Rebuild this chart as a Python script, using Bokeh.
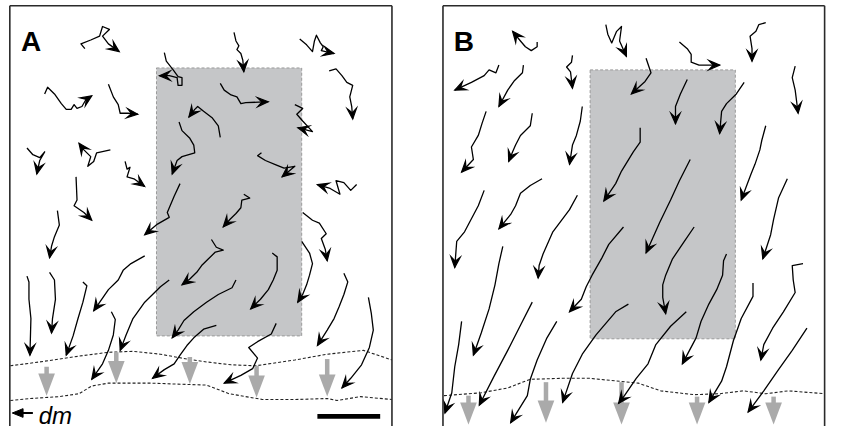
import math
from bokeh.plotting import figure
from bokeh.models import Range1d
from bokeh.embed import file_html
from bokeh.resources import INLINE
from bokeh.core.properties import value

# ---- layout data, in the reference picture's pixel space (y grows downwards)
panel_left = [9.5, 451.0]
panel_right = [399.0, 840.0]
panel_top = 5.5
panel_bottom = 442.0
panel_labels = ["A", "B"]
label_x = [21, 462]
label_y = [43, 43]

box_left = [159, 601]
box_right = [307, 749]
box_top = [70, 72]
box_bottom = [348, 351]

# dashed front lines
A_front1_x = [10, 40, 80, 110, 135, 163, 190, 210, 235, 260, 300, 333, 370, 399]
A_front1_y = [379, 375, 369, 365, 364, 367, 372, 375, 378, 379, 373, 367, 363, 373]
A_front2_x = [10, 30, 60, 80, 93, 110, 130, 153, 180, 210, 233, 267, 300, 333, 343, 367, 399]
A_front2_y = [415, 413, 411, 408, 400, 397, 397, 397, 398, 399, 408, 414, 414, 413, 415, 411, 414]
B_front_x = [452, 490, 517, 540, 573, 600, 650, 673, 707, 733, 757, 780, 803, 840]
B_front_y = [410, 407, 402, 393, 392, 392, 397, 405, 409, 408, 405, 408, 405, 408]

# grey arrows: x, top of shaft, tip
A_garrow_x = [47, 118, 193, 261, 333]
A_garrow_top = [380, 365, 370, 379, 372]
A_garrow_tip = [410, 397, 398, 412, 411]
B_garrow_x = [477, 556, 633, 710, 788]
B_garrow_top = [410, 396, 396, 411, 411]
B_garrow_tip = [440, 438, 440, 440, 440]

# trajectories (points), ending at the arrow tip
A_paths = [
    [(86, 50), (82, 45), (92, 41), (101, 37), (104, 27), (111, 30), (104, 37), (110, 45), (121, 53)],
    [(45, 97), (48, 90), (55, 97), (62, 107), (67, 113), (72, 113), (75, 108), (78, 112), (83, 110), (87, 103), (93, 99)],
    [(110, 87), (115, 100), (120, 108), (122, 117), (130, 117), (140, 118)],
    [(167, 54), (169, 63), (176, 72), (181, 79), (185, 80), (185, 88), (181, 88), (180, 80), (172, 78), (162, 78)],
    [(238, 33), (240, 42), (243, 47), (241, 51), (245, 55), (247, 62), (248, 74)],
    [(305, 40), (312, 46), (318, 53), (320, 42), (322, 36), (326, 44), (329, 48), (327, 52), (340, 55)],
    [(335, 73), (342, 71), (348, 78), (353, 85), (359, 88), (356, 100), (358, 110), (359, 123)],
    [(224, 86), (228, 93), (235, 98), (241, 100), (245, 107), (250, 106), (273, 105)],
    [(300, 108), (308, 112), (302, 118), (308, 125), (318, 136), (303, 132)],
    [(224, 142), (222, 130), (216, 122), (207, 115), (201, 110), (198, 113), (192, 121)],
    [(182, 126), (185, 135), (193, 143), (197, 150), (198, 158), (185, 162), (180, 166), (175, 180)],
    [(266, 158), (262, 161), (270, 166), (282, 171), (289, 174), (300, 172), (293, 178), (287, 183)],
    [(363, 191), (357, 197), (350, 189), (342, 187), (346, 201), (336, 195), (323, 191)],
    [(248, 201), (254, 205), (246, 207), (245, 215), (240, 221), (234, 227), (227, 235)],
    [(215, 248), (220, 256), (227, 259), (219, 261), (212, 268), (205, 275), (200, 282), (193, 289), (185, 295)],
    [(277, 262), (282, 266), (282, 280), (278, 290), (273, 300), (265, 310), (255, 320)],
    [(307, 250), (315, 262), (318, 273), (315, 285), (312, 295), (308, 305), (303, 313)],
    [(350, 283), (354, 292), (350, 305), (345, 318), (340, 330), (333, 342), (323, 358)],
    [(375, 308), (378, 325), (380, 342), (376, 360), (368, 378), (357, 392), (348, 402)],
    [(281, 335), (276, 346), (262, 354), (253, 360), (262, 371), (257, 382), (245, 389), (228, 397)],
    [(240, 290), (236, 298), (222, 305), (210, 313), (197, 323), (187, 332), (181, 342), (175, 350)],
    [(220, 337), (207, 341), (197, 350), (190, 358), (183, 368), (177, 377), (167, 383), (155, 392)],
    [(172, 290), (163, 297), (147, 313), (135, 330), (128, 347), (122, 363)],
    [(113, 323), (117, 331), (115, 347), (110, 363), (104, 377), (93, 393)],
    [(147, 265), (133, 273), (125, 280), (120, 290), (110, 300), (95, 322)],
    [(84, 292), (88, 296), (84, 313), (79, 330), (74, 348), (67, 368)],
    [(50, 282), (55, 290), (56, 310), (53, 330), (52, 345)],
    [(27, 286), (29, 292), (29, 310), (31, 330), (30, 368)],
    [(27, 153), (33, 160), (40, 163), (45, 157), (40, 166), (37, 180)],
    [(112, 155), (98, 158), (95, 167), (89, 172), (92, 162), (85, 155), (80, 148)],
    [(127, 167), (129, 175), (132, 173), (129, 183), (136, 185), (147, 193)],
    [(77, 183), (78, 207), (75, 213), (85, 220), (93, 228)],
    [(58, 218), (60, 233), (55, 245), (52, 255), (50, 267)],
    [(183, 190), (177, 203), (170, 220), (172, 225), (160, 232), (147, 243)],
    [(308, 220), (318, 228), (325, 231), (332, 242), (327, 247), (331, 258), (333, 270)],
]

B_paths = [
    [(547, 43), (547, 48), (541, 52), (535, 48), (530, 42), (522, 32)],
    [(508, 67), (505, 75), (498, 72), (493, 78), (480, 85), (463, 93)],
    [(533, 67), (532, 75), (524, 83), (517, 93), (508, 110)],
    [(583, 57), (582, 64), (577, 69), (581, 74), (583, 91)],
    [(617, 25), (619, 35), (623, 44), (628, 32), (633, 27), (631, 42), (638, 58)],
    [(658, 60), (663, 75), (657, 84), (643, 97)],
    [(692, 43), (700, 50), (704, 56), (704, 64), (712, 67), (733, 67)],
    [(780, 23), (773, 25), (770, 32), (764, 37), (766, 50), (766, 63)],
    [(810, 68), (807, 80), (810, 93), (813, 117)],
    [(700, 82), (693, 97), (688, 110), (688, 128)],
    [(758, 85), (750, 97), (740, 107), (735, 115), (733, 138)],
    [(652, 132), (652, 147), (645, 157), (633, 177), (627, 190), (615, 208)],
    [(780, 130), (776, 145), (774, 155), (769, 170), (765, 180), (755, 207)],
    [(703, 165), (692, 187), (683, 207), (672, 230), (658, 262)],
    [(802, 185), (793, 205), (788, 227), (785, 243), (777, 268)],
    [(707, 235), (697, 250), (685, 268), (678, 285), (675, 295), (675, 308), (678, 325)],
    [(740, 263), (737, 270), (736, 285), (730, 300), (722, 315), (714, 333), (709, 350), (695, 377)],
    [(818, 273), (807, 275), (808, 290), (810, 303), (798, 323), (787, 340), (778, 357), (775, 373)],
    [(767, 293), (767, 307), (755, 330), (747, 353), (740, 380), (735, 395), (722, 417)],
    [(822, 340), (807, 363), (793, 383), (778, 405), (762, 427)],
    [(699, 323), (683, 338), (668, 357), (660, 377), (648, 392), (636, 410), (630, 418)],
    [(640, 315), (627, 323), (607, 347), (593, 367), (583, 387), (573, 417)],
    [(567, 333), (557, 350), (547, 373), (540, 393), (537, 410), (520, 438)],
    [(542, 313), (530, 337), (517, 363), (503, 390), (488, 420)],
    [(470, 333), (467, 357), (463, 380), (460, 407), (453, 428)],
    [(512, 255), (508, 273), (504, 295), (498, 320), (490, 345), (482, 368)],
    [(635, 235), (620, 253), (613, 267), (603, 285), (597, 297), (592, 310), (580, 323)],
    [(588, 202), (580, 217), (563, 240), (553, 263), (549, 275), (548, 288)],
    [(493, 197), (487, 213), (473, 240), (465, 250), (463, 277)],
    [(552, 185), (540, 192), (530, 200), (525, 213), (520, 222), (508, 237)],
    [(495, 115), (491, 127), (487, 140), (480, 152), (482, 165), (470, 178)],
    [(542, 117), (540, 130), (530, 140), (525, 150), (522, 157), (518, 167)],
    [(593, 110), (591, 125), (587, 140), (583, 150), (580, 170)],
]

dm_text = "dm"
dm_x, dm_y = 39, 431
dm_arrow_tail, dm_arrow_tip, dm_arrow_y = 33, 12, 428
scale_left, scale_right, scale_top, scale_bottom = 323, 387, 429, 434

# ---- figure: the whole 846x442 reference space drawn into an 830x426 figure
p = figure(width=830, height=426, x_range=Range1d(0, 846), y_range=Range1d(442, 0),
           output_backend="svg", toolbar_location=None, min_border=0,
           x_axis_location=None, y_axis_location=None, background_fill_color="white")
p.grid.visible = False
p.outline_line_color = None

# grey areas
p.quad(left=box_left, right=box_right, top=box_top, bottom=box_bottom,
       fill_color="#c5c6c8", line_color="#9a9a9a", line_dash="3 2", line_width=1)

# dashed fronts
for fx, fy in [(A_front1_x, A_front1_y), (A_front2_x, A_front2_y), (B_front_x, B_front_y)]:
    p.line(fx, fy, line_color="#222222", line_dash="3 2", line_width=1.1)

# grey arrows
HEAD_L, HEAD_W, SHAFT_W = 23, 8.5, 2.3
gx_all = A_garrow_x + B_garrow_x
gt_all = A_garrow_top + B_garrow_top
gb_all = A_garrow_tip + B_garrow_tip
p.quad(left=[x - SHAFT_W for x in gx_all], right=[x + SHAFT_W for x in gx_all],
       top=gt_all, bottom=[b - HEAD_L + 1 for b in gb_all],
       fill_color="#aaaaaa", line_color=None)
p.patches([[x - HEAD_W, x + HEAD_W, x] for x in gx_all],
          [[b - HEAD_L, b - HEAD_L, b] for b in gb_all],
          fill_color="#aaaaaa", line_color=None)

# trajectories
all_paths = A_paths + B_paths
p.multi_line([[q[0] for q in path] for path in all_paths],
             [[q[1] for q in path] for path in all_paths],
             line_color="black", line_width=1.3, line_join="round")


def head(path, L=11, W=4.8, N=6.5):
    x1, y1 = path[-1]
    x0, y0 = path[-2]
    dx, dy = x1 - x0, y1 - y0
    n = math.hypot(dx, dy) or 1.0
    ux, uy = dx / n, dy / n
    px, py = -uy, ux
    xs = [x1, x1 - L * ux + W * px, x1 - N * ux, x1 - L * ux - W * px]
    ys = [y1, y1 - L * uy + W * py, y1 - N * uy, y1 - L * uy - W * py]
    return xs, ys


hx, hy = zip(*[head(path) for path in all_paths])
p.patches(list(hx), list(hy), fill_color="black", line_color="black", line_width=1.2, line_join="miter")

# panel frames
seg_x0, seg_y0, seg_x1, seg_y1 = [], [], [], []
for l, r in zip(panel_left, panel_right):
    seg_x0 += [l, r, l]
    seg_y0 += [panel_top, panel_top, panel_top]
    seg_x1 += [l, r, r]
    seg_y1 += [panel_bottom, panel_bottom, panel_top]
p.segment(seg_x0, seg_y0, seg_x1, seg_y1, line_color="#2a2a2a", line_width=1.6)

# panel letters
p.text(x=label_x, y=label_y, text=panel_labels, text_font=value("Liberation Sans"),
       text_font_size="28px", text_font_style="bold", text_baseline="alphabetic",
       text_color="black")

# dm arrow and label
p.segment([dm_arrow_tail], [dm_arrow_y], [dm_arrow_tip + 8], [dm_arrow_y], line_color="black", line_width=2)
p.patch([dm_arrow_tip, dm_arrow_tip + 11, dm_arrow_tip + 11], [dm_arrow_y, dm_arrow_y - 4.5, dm_arrow_y + 4.5],
        fill_color="black", line_color="black")
p.text(x=[dm_x], y=[dm_y], text=[dm_text], text_font=value("Liberation Sans"),
       text_font_size="24px", text_font_style="italic", text_baseline="alphabetic",
       text_color="black")

# scale bar
p.quad(left=[scale_left], right=[scale_right], top=[scale_top], bottom=[scale_bottom],
       fill_color="black", line_color=None)

open("out.html", "w").write(file_html(p, INLINE))
